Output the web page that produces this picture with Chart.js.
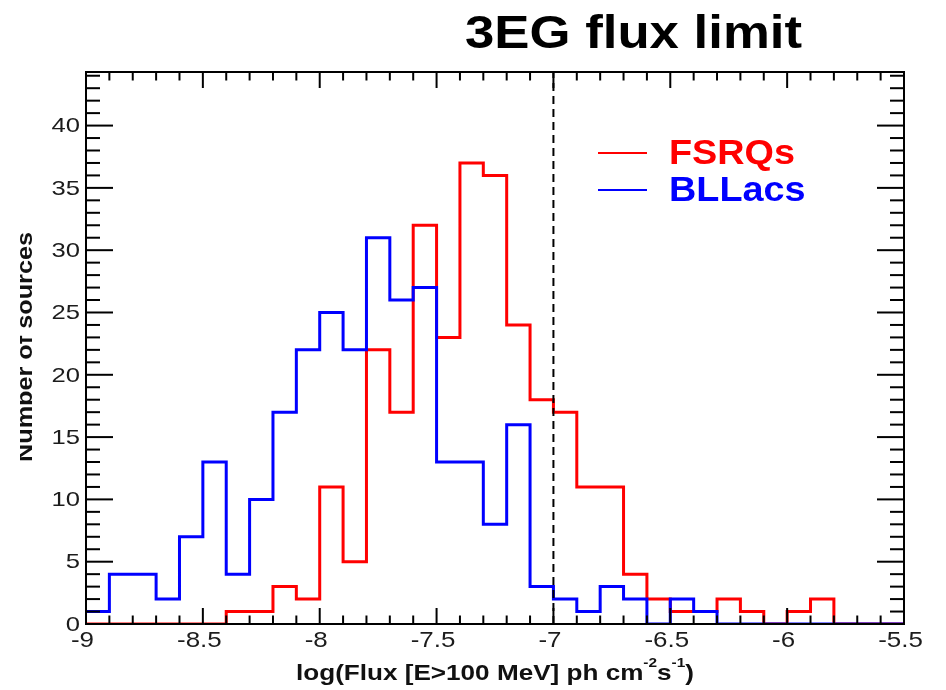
<!DOCTYPE html>
<html>
<head>
<meta charset="utf-8">
<script src="https://cdn.jsdelivr.net/npm/chart.js@4/dist/chart.umd.min.js"></script>
<style>
  html, body { margin: 0; padding: 0; background: #ffffff; }
  #wrap { width: 946px; height: 690px; }
  canvas { display: block; }
</style>
</head>
<body>
<div id="wrap"><canvas id="c" width="946" height="690"></canvas></div>
<script>
// ---- data ----
const binLow = [-9.0, -8.9, -8.8, -8.7, -8.6, -8.5, -8.4, -8.3, -8.2, -8.1,
                -8.0, -7.9, -7.8, -7.7, -7.6, -7.5, -7.4, -7.3, -7.2, -7.1,
                -7.0, -6.9, -6.8, -6.7, -6.6, -6.5, -6.4, -6.3, -6.2, -6.1,
                -6.0, -5.9, -5.8, -5.7, -5.6];
const fsrqCounts = [0, 0, 0, 0, 0, 0, 1, 1, 3, 2,
                    11, 5, 22, 17, 32, 23, 37, 36, 24, 18,
                    17, 11, 11, 4, 2, 1, 1, 2, 1, 0,
                    1, 2, 0, 0, 0];
const bllacCounts = [1, 4, 4, 2, 7, 13, 4, 10, 17, 22,
                     25, 22, 31, 26, 27, 13, 13, 8, 16, 3,
                     2, 1, 3, 2, 0, 2, 1, 0, 0, 0,
                     0, 0, 0, 0, 0];
const seriesNames = ['FSRQs', 'BLLacs'];
const fluxLimit = -7.0;
const xMin = -9.0, xMax = -5.5;
const yMin = 0, yMax = 44.3;
const xTickStep = 0.5, yTickStep = 5;
const binWidth = 0.1;
const titleText = '3EG flux limit';
const yTitleText = 'Number of sources';
const xTitleParts = [
  { t: 'log(Flux [E>100 MeV] ph cm', sup: false },
  { t: '-2', sup: true },
  { t: 's', sup: false },
  { t: '-1', sup: true },
  { t: ')', sup: false }
];

// ---- styling ----
const RED = '#ff0000', BLUE = '#0000ff';
const FONT = '"Liberation Sans", Arial, Helvetica, sans-serif';

function histPoints(counts) {
  const pts = binLow.map((x, i) => ({ x: x, y: counts[i] }));
  pts.push({ x: xMax, y: counts[counts.length - 1] });
  return pts;
}

function fmtTick(v) {
  return String(parseFloat(Number(v).toFixed(2)));
}

function stretchText(ctx, text, x, y, sx, align, baseline) {
  ctx.save();
  ctx.translate(x, y);
  ctx.scale(sx, 1);
  ctx.textAlign = align;
  ctx.textBaseline = baseline || 'alphabetic';
  ctx.fillText(text, 0, 0);
  ctx.restore();
}

const rootStyle = {
  id: 'rootStyle',
  afterDatasetsDraw(chart) {
    const ctx = chart.ctx;
    const ca = chart.chartArea;
    const xs = chart.scales.x, ys = chart.scales.y;
    ctx.save();
    ctx.strokeStyle = '#000';
    ctx.lineWidth = 2;
    ctx.lineCap = 'butt';
    const seg = (x1, y1, x2, y2) => { ctx.beginPath(); ctx.moveTo(x1, y1); ctx.lineTo(x2, y2); ctx.stroke(); };
    const nx = Math.round((xMax - xMin) / binWidth);
    for (let k = 0; k <= nx; k++) {
      const px = xs.getPixelForValue(xMin + k * binWidth);
      const len = (k % 5 === 0) ? 16 : 8.5;
      seg(px, ca.bottom, px, ca.bottom - len);
      seg(px, ca.top, px, ca.top + len);
    }
    for (let k = 0; k <= Math.floor(yMax); k++) {
      const py = ys.getPixelForValue(k);
      const len = (k % 5 === 0) ? 27 : 14;
      seg(ca.left, py, ca.left + len, py);
      seg(ca.right, py, ca.right - len, py);
    }
    ctx.strokeRect(ca.left, ca.top, ca.right - ca.left, ca.bottom - ca.top);
    ctx.restore();
  },
  afterDraw(chart) {
    const ctx = chart.ctx;
    const ca = chart.chartArea;
    const xs = chart.scales.x, ys = chart.scales.y;
    ctx.save();
    // tick labels
    ctx.fillStyle = '#1c1c1c';
    ctx.font = '22px ' + FONT;
    xs.ticks.forEach(t => {
      stretchText(ctx, fmtTick(t.value), xs.getPixelForValue(t.value) - 3.5, ca.bottom + 17, 1.18, 'center', 'middle');
    });
    ctx.font = '21px ' + FONT;
    ys.ticks.forEach(t => {
      stretchText(ctx, fmtTick(t.value), ca.left - 6, ys.getPixelForValue(t.value) + 1, 1.22, 'right', 'middle');
    });

    // x axis title with superscripts
    ctx.fillStyle = '#111';
    const baseFont = 'bold 22px ' + FONT, supFont = 'bold 13px ' + FONT;
    let w = 0;
    xTitleParts.forEach(p => { ctx.font = p.sup ? supFont : baseFont; w += ctx.measureText(p.t).width; });
    const targetW = 398;
    const sx = targetW / w;
    const cx = (ca.left + ca.right) / 2;
    ctx.save();
    ctx.translate(cx - targetW / 2, 680);
    ctx.scale(sx, 1);
    ctx.textAlign = 'left';
    ctx.textBaseline = 'alphabetic';
    let xoff = 0;
    xTitleParts.forEach(p => {
      ctx.font = p.sup ? supFont : baseFont;
      ctx.fillText(p.t, xoff, p.sup ? -13 : 0);
      xoff += ctx.measureText(p.t).width;
    });
    ctx.restore();

    // y axis title (rotated, clipped at the left like the reference)
    ctx.save();
    ctx.beginPath();
    ctx.rect(20, 0, 946, 690);
    ctx.clip();
    ctx.font = 'bold 22px ' + FONT;
    const yw = ctx.measureText(yTitleText).width;
    ctx.translate(31.5, 347);
    ctx.rotate(-Math.PI / 2);
    ctx.scale(230 / yw, 1);
    ctx.textAlign = 'center';
    ctx.textBaseline = 'alphabetic';
    ctx.fillText(yTitleText, 0, 0);
    ctx.restore();

    // main title
    ctx.fillStyle = '#000';
    ctx.font = 'bold 47px ' + FONT;
    const tw = ctx.measureText(titleText).width;
    stretchText(ctx, titleText, 465, 48, 337 / tw, 'left', 'alphabetic');

    // legend
    const legendRows = [153, 190];
    chart.data.datasets.filter(d => seriesNames.includes(d.label)).forEach(d => {
      const ly = legendRows[seriesNames.indexOf(d.label)];
      ctx.strokeStyle = d.borderColor;
      ctx.lineWidth = 2;
      ctx.beginPath();
      ctx.moveTo(598, ly);
      ctx.lineTo(647, ly);
      ctx.stroke();
      ctx.fillStyle = d.borderColor;
      ctx.font = 'bold 35px ' + FONT;
      stretchText(ctx, d.label, 669, ly + 11, 1.08, 'left', 'alphabetic');
    });
    ctx.restore();
  }
};

const chart = new Chart(document.getElementById('c'), {
  type: 'line',
  data: {
    datasets: [
      {
        label: seriesNames[0],
        data: histPoints(fsrqCounts),
        borderColor: RED,
        borderWidth: 3,
        stepped: 'before',
        pointRadius: 0,
        fill: false,
        order: 2
      },
      {
        label: seriesNames[1],
        data: histPoints(bllacCounts),
        borderColor: BLUE,
        borderWidth: 3,
        stepped: 'before',
        pointRadius: 0,
        fill: false,
        order: 1
      },
      {
        label: '3EG limit',
        data: [{ x: fluxLimit, y: yMin }, { x: fluxLimit, y: yMax }],
        borderColor: '#000',
        borderWidth: 2,
        borderDash: [8, 5],
        pointRadius: 0,
        fill: false,
        order: 0
      }
    ]
  },
  options: {
    responsive: false,
    animation: false,
    devicePixelRatio: 1,
    events: [],
    layout: { padding: { left: 86, top: 72, right: 42, bottom: 66 } },
    plugins: {
      legend: { display: false },
      tooltip: { enabled: false },
      title: { display: false }
    },
    scales: {
      x: {
        type: 'linear',
        min: xMin,
        max: xMax,
        ticks: { display: false, stepSize: xTickStep },
        grid: { display: false },
        border: { display: false },
        afterFit(s) { s.height = 0; }
      },
      y: {
        type: 'linear',
        min: yMin,
        max: yMax,
        ticks: { display: false, stepSize: yTickStep, includeBounds: false },
        grid: { display: false },
        border: { display: false },
        afterFit(s) { s.width = 0; }
      }
    }
  },
  plugins: [rootStyle]
});
</script>
</body>
</html>
